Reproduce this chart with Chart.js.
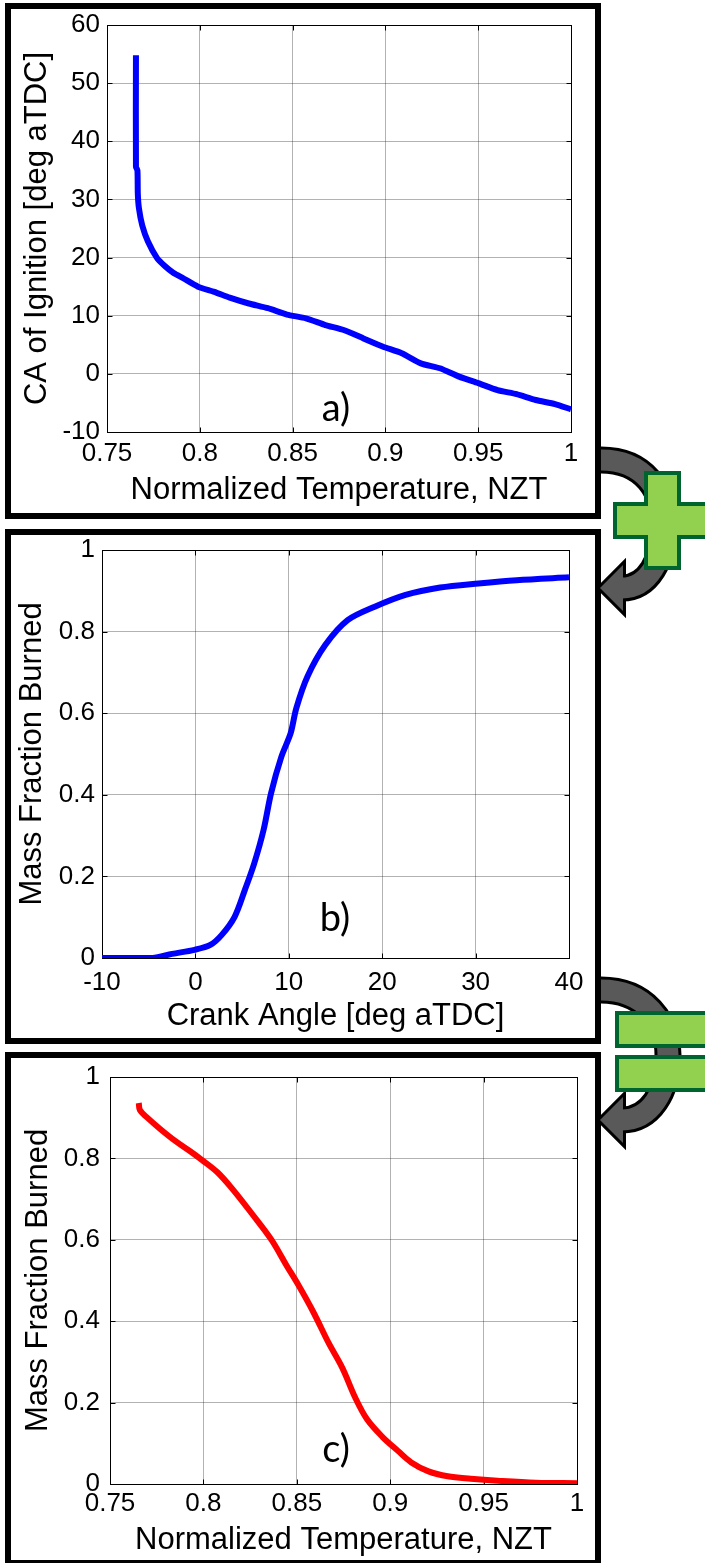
<!DOCTYPE html>
<html>
<head>
<meta charset="utf-8">
<script src="https://cdn.jsdelivr.net/npm/chart.js@4.4.1/dist/chart.umd.min.js"></script>
<style>
  html, body { margin: 0; padding: 0; background: #fff; }
  body { width: 705px; height: 1563px; position: relative; overflow: hidden; }
  .frame { position: absolute; border: 6px solid #000; box-sizing: border-box; }
  .plot { position: absolute; left: 12px; width: 580px; height: 500px; }
  .tag { position: absolute; font-family: Lato, "Open Sans", sans-serif; font-size: 38px; line-height: 1; transform: translate(-50%, -50%); color: #000; }
  svg.deco { position: absolute; left: 0; top: 0; }
</style>
</head>
<body>

<div class="frame" style="left:5px;top:3px;width:596px;height:516px"></div>
<div class="frame" style="left:5px;top:529px;width:596px;height:515px"></div>
<div class="frame" style="left:5px;top:1052px;width:596px;height:514px"></div>

<div class="plot" style="top:10px"><canvas id="chartA"></canvas></div>
<div class="plot" style="top:537px"><canvas id="chartB"></canvas></div>
<div class="plot" style="top:1061px"><canvas id="chartC"></canvas></div>

<div class="tag" style="left:336px;top:406px">a)</div>
<div class="tag" style="left:335px;top:916px">b)</div>
<div class="tag" style="left:336px;top:1447px">c)</div>

<svg class="deco" width="705" height="1563">
  <!-- arrow a -> b -->
  <path d="M601 460 C645 460 664 492 664 524 C664 560 648 588 622 588" fill="none" stroke="#000" stroke-width="27"/>
  <polygon points="600,588 623,565 623,611" fill="#000" stroke="#000" stroke-width="6"/>
  <path d="M601 460 C645 460 664 492 664 524 C664 560 648 588 622 588" fill="none" stroke="#595959" stroke-width="21"/>
  <polygon points="600,588 623,565 623,611" fill="#595959"/>
  <polygon points="646,473 679,473 679,504 712,504 712,537 679,537 679,568 646,568 646,537 615,537 615,504 646,504"
           fill="#92D050" stroke="#00642F" stroke-width="4"/>

  <!-- arrow b -> c -->
  <path d="M601 990 C645 990 668 1022 668 1055 C668 1092 650 1120 622 1120" fill="none" stroke="#000" stroke-width="27"/>
  <polygon points="600,1120 623,1097 623,1143" fill="#000" stroke="#000" stroke-width="6"/>
  <path d="M601 990 C645 990 668 1022 668 1055 C668 1092 650 1120 622 1120" fill="none" stroke="#595959" stroke-width="21"/>
  <polygon points="600,1120 623,1097 623,1143" fill="#595959"/>
  <rect x="617" y="1013" width="95" height="33" fill="#92D050" stroke="#00642F" stroke-width="4"/>
  <rect x="617" y="1057" width="95" height="33" fill="#92D050" stroke="#00642F" stroke-width="4"/>
</svg>

<script>
// a) crank angle of ignition vs normalized temperature
const nztA = [0.7656, 0.7656, 0.7664, 0.7666, 0.7672, 0.7690, 0.7720, 0.7768, 0.7810, 0.7857,
              0.7913, 0.7990, 0.8078, 0.8161, 0.8264, 0.8367, 0.8470, 0.8572, 0.8676, 0.8779,
              0.8882, 0.8985, 0.9088, 0.9191, 0.9294, 0.9397, 0.9500, 0.9604, 0.9707, 0.9810,
              0.9914, 1.0];
const caA  = [54.8, 35.6, 35.0, 31.0, 28.5, 25.5, 22.8, 20.0, 18.6, 17.4,
              16.4, 15.0, 14.1, 13.1, 12.1, 11.3, 10.2, 9.55, 8.4, 7.5,
              6.1, 4.7, 3.55, 1.8, 0.96, -0.48, -1.6, -2.8, -3.5, -4.5,
              -5.2, -6.1];

// b) mass fraction burned vs crank angle
const caB  = [-10, -4.6, -2.5, -0.1, 1.6, 2.8, 4.2, 5.3, 6.3, 7.3, 8.1, 9.2,
              10.2, 10.8, 12.0, 13.9, 16.3, 19.2, 22.5, 26.2, 30.3, 34.4, 40];
const mfbB = [0, 0, 0.01, 0.02, 0.032, 0.056, 0.101, 0.167, 0.232, 0.314, 0.404, 0.493,
              0.551, 0.612, 0.690, 0.767, 0.828, 0.861, 0.890, 0.908, 0.918, 0.926, 0.933];

// c) mass fraction burned vs normalized temperature
const nztC = [0.7654, 0.7660, 0.7695, 0.7767, 0.7849, 0.7931, 0.7993, 0.8075, 0.8157, 0.8260,
              0.8363, 0.8445, 0.8507, 0.8589, 0.8671, 0.8743, 0.8815, 0.8876, 0.8958, 0.9040,
              0.9113, 0.9205, 0.9308, 0.9431, 0.9575, 0.9780, 1.0];
const mfbC = [0.936, 0.919, 0.902, 0.873, 0.843, 0.817, 0.796, 0.766, 0.724, 0.664,
              0.601, 0.537, 0.490, 0.422, 0.346, 0.286, 0.210, 0.159, 0.116, 0.082,
              0.053, 0.031, 0.019, 0.013, 0.008, 0.003, 0.002];

// tick values and labels
const nztTicks  = [0.75, 0.8, 0.85, 0.9, 0.95, 1];
const nztLabels = ['0.75', '0.8', '0.85', '0.9', '0.95', '1'];
const caTicksA  = [-10, 0, 10, 20, 30, 40, 50, 60];
const caLabelsA = ['-10', '0', '10', '20', '30', '40', '50', '60'];
const caTicksB  = [-10, 0, 10, 20, 30, 40];
const caLabelsB = ['-10', '0', '10', '20', '30', '40'];
const mfbTicks  = [0, 0.2, 0.4, 0.6, 0.8, 1];
const mfbLabels = ['0', '0.2', '0.4', '0.6', '0.8', '1'];

const FONT = '"Liberation Sans", Arial, sans-serif';

// MATLAB-style box with inward ticks on all four sides
const matlabBox = {
  id: 'matlabBox',
  beforeDatasetsDraw(chart) {
    const {ctx, chartArea: a, scales} = chart;
    const L = Math.round(a.left) + 0.5, R = Math.round(a.right) + 0.5;
    const T = Math.round(a.top) + 0.5, B = Math.round(a.bottom) + 0.5;
    ctx.save();
    ctx.strokeStyle = '#000';
    ctx.lineWidth = 1;
    ctx.strokeRect(L, T, R - L, B - T);
    ctx.beginPath();
    scales.x.ticks.forEach(t => {
      const px = Math.round(scales.x.getPixelForValue(t.value)) + 0.5;
      ctx.moveTo(px, B); ctx.lineTo(px, B - 5);
      ctx.moveTo(px, T); ctx.lineTo(px, T + 5);
    });
    scales.y.ticks.forEach(t => {
      const py = Math.round(scales.y.getPixelForValue(t.value)) + 0.5;
      ctx.moveTo(L, py); ctx.lineTo(L + 5, py);
      ctx.moveTo(R, py); ctx.lineTo(R - 5, py);
    });
    ctx.stroke();
    ctx.restore();
  }
};

function noPad(s) {
  s.paddingTop = 0; s.paddingBottom = 0; s.paddingLeft = 0; s.paddingRight = 0;
}

function makeChart(id, xs, ys, color, ax, lay) {
  const points = xs.map((x, i) => ({x: x, y: ys[i]}));
  return new Chart(document.getElementById(id), {
    type: 'scatter',
    data: {
      datasets: [{
        data: points,
        showLine: true,
        borderColor: color,
        backgroundColor: color,
        borderWidth: 6,
        borderJoinStyle: 'round',
        pointRadius: 0,
        tension: lay.tension
      }]
    },
    options: {
      responsive: true,
      maintainAspectRatio: false,
      animation: false,
      layout: { padding: lay.padding },
      plugins: { legend: { display: false }, tooltip: { enabled: false } },
      scales: {
        x: {
          type: 'linear', min: ax.xMin, max: ax.xMax,
          afterBuildTicks: s => { s.ticks = ax.xTicks.map(v => ({value: v})); },
          afterFit: s => { s.height = lay.xHeight; noPad(s); },
          ticks: {
            color: '#000', font: {family: FONT, size: 26}, padding: lay.xTickPad,
            maxRotation: 0, autoSkip: false,
            callback: (v, i) => ax.xLabels[i]
          },
          grid: { color: 'rgba(0,0,0,0.3)', lineWidth: 1, drawTicks: false },
          border: { display: false },
          title: { display: true, text: ax.xTitle, color: '#000', font: {family: FONT, size: 31}, padding: 0 }
        },
        y: {
          type: 'linear', min: ax.yMin, max: ax.yMax,
          afterBuildTicks: s => { s.ticks = ax.yTicks.map(v => ({value: v})); },
          afterFit: s => { s.width = lay.yWidth; noPad(s); },
          ticks: {
            color: '#000', font: {family: FONT, size: 26}, padding: lay.yTickPad,
            autoSkip: false,
            callback: (v, i) => ax.yLabels[i]
          },
          grid: { color: 'rgba(0,0,0,0.3)', lineWidth: 1, drawTicks: false },
          border: { display: false },
          title: { display: true, text: ax.yTitle, color: '#000', font: {family: FONT, size: 31},
                   padding: {top: lay.yTitlePad, bottom: 0} }
        }
      }
    },
    plugins: [matlabBox]
  });
}

makeChart('chartA', nztA, caA, '#0000FF',
  { xMin: 0.75, xMax: 1, xTicks: nztTicks, xLabels: nztLabels, xTitle: 'Normalized Temperature, NZT',
    yMin: -10, yMax: 60, yTicks: caTicksA, yLabels: caLabelsA, yTitle: 'CA of Ignition [deg aTDC]' },
  { padding: {left: 0, top: 15, right: 21, bottom: 1}, yWidth: 95, xHeight: 77,
    xTickPad: 6, yTickPad: 7, yTitlePad: 7, tension: 0.2 });

makeChart('chartB', caB, mfbB, '#0000FF',
  { xMin: -10, xMax: 40, xTicks: caTicksB, xLabels: caLabelsB, xTitle: 'Crank Angle [deg aTDC]',
    yMin: 0, yMax: 1, yTicks: mfbTicks, yLabels: mfbLabels, yTitle: 'Mass Fraction Burned' },
  { padding: {left: 0, top: 13, right: 23, bottom: 2}, yWidth: 90, xHeight: 77,
    xTickPad: 9, yTickPad: 7, yTitlePad: 2, tension: 0.3 });

makeChart('chartC', nztC, mfbC, '#FF0000',
  { xMin: 0.75, xMax: 1, xTicks: nztTicks, xLabels: nztLabels, xTitle: 'Normalized Temperature, NZT',
    yMin: 0, yMax: 1, yTicks: mfbTicks, yLabels: mfbLabels, yTitle: 'Mass Fraction Burned' },
  { padding: {left: 0, top: 16, right: 15, bottom: 2}, yWidth: 98, xHeight: 75,
    xTickPad: 4, yTickPad: 10, yTitlePad: 8, tension: 0.35 });
</script>
</body>
</html>
